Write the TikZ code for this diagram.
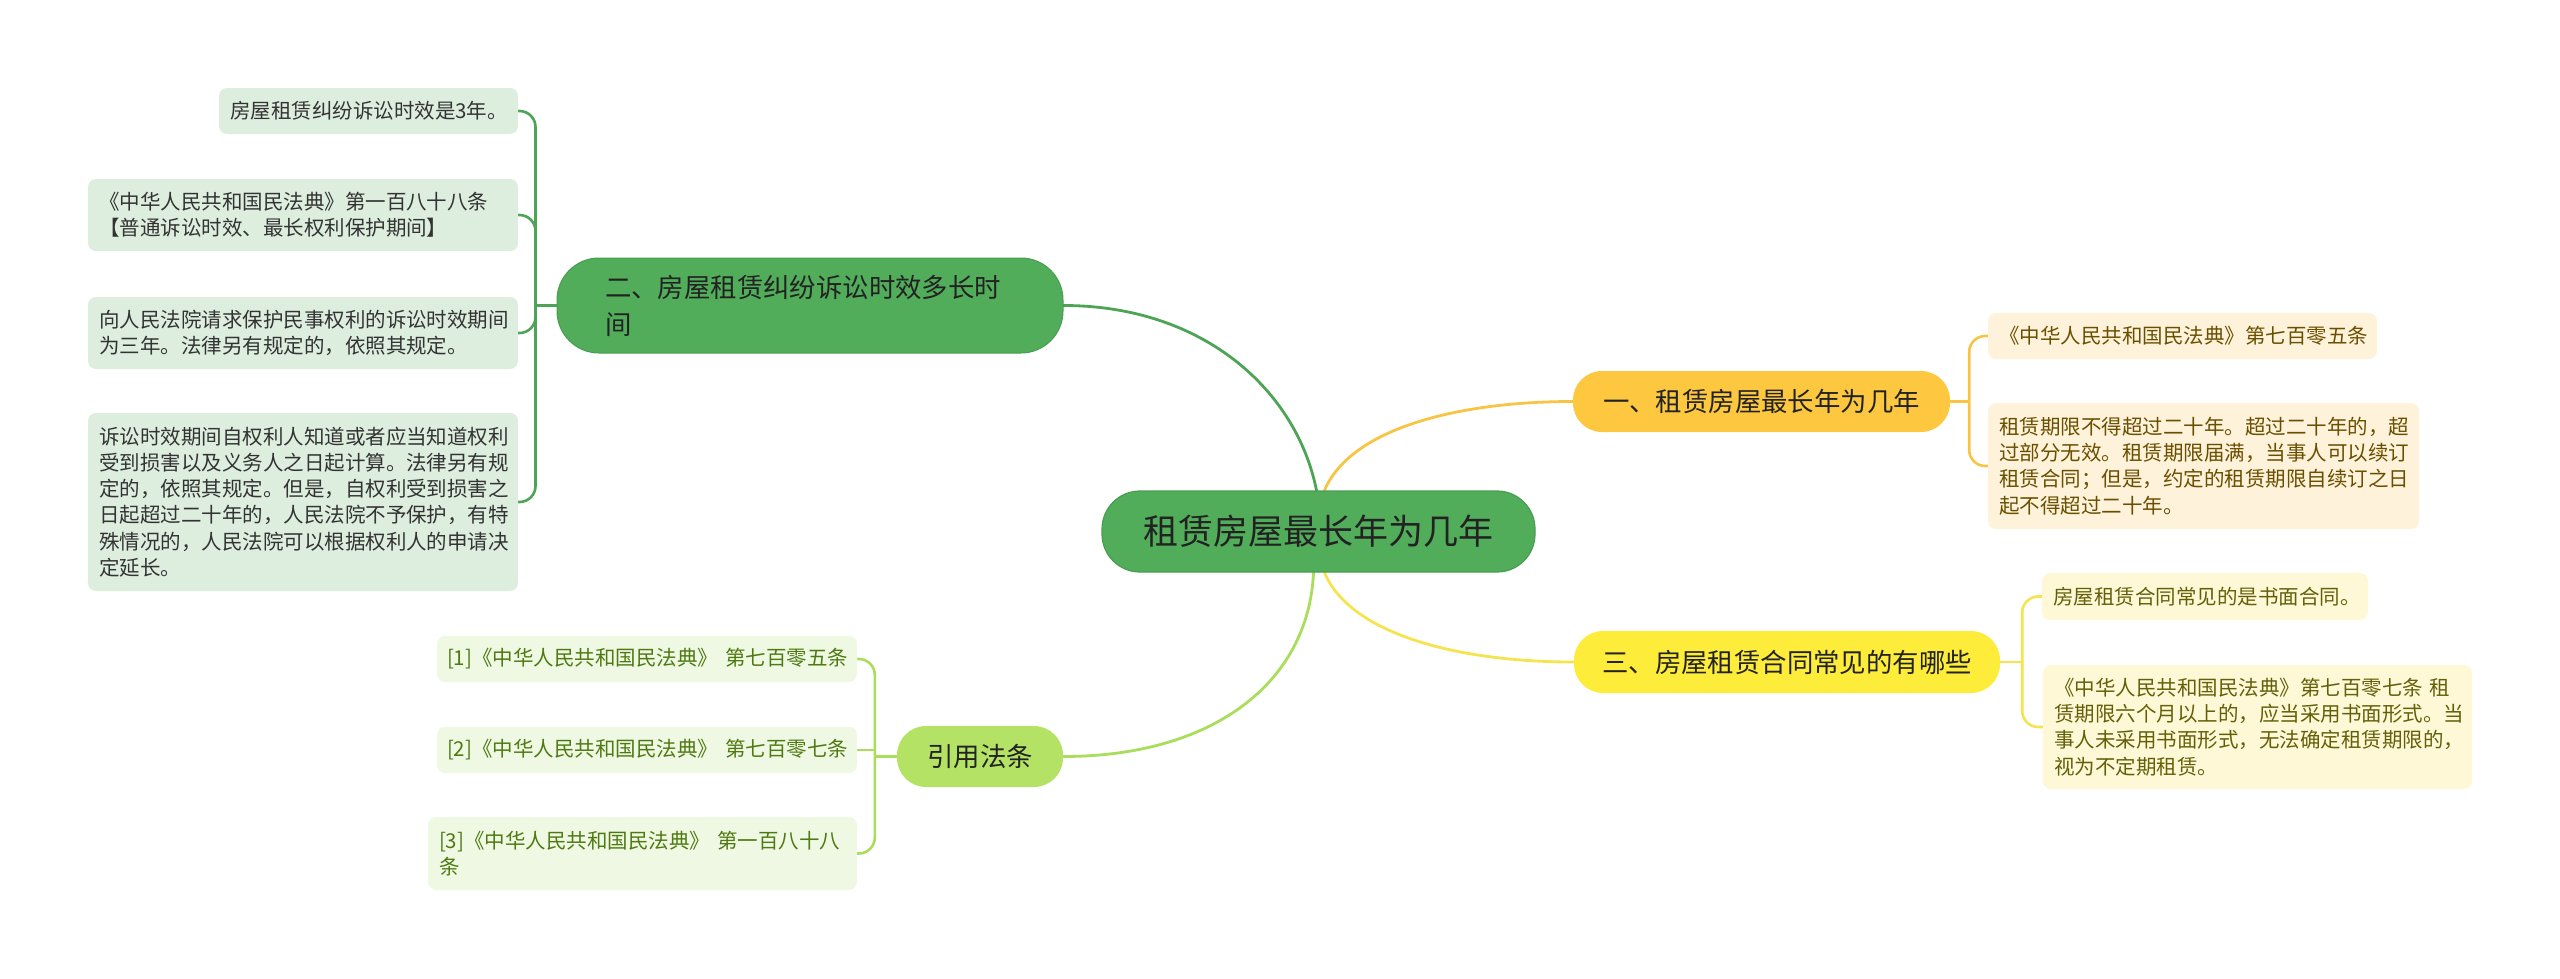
\documentclass[tikz,border=0pt]{standalone}
\usepackage{fontspec}
\setmainfont{Noto Sans CJK SC}
\usetikzlibrary{calc}
\pgfdeclarelayer{bg}
\pgfsetlayers{bg,main}
\definecolor{rootgreen}{HTML}{52AD5B}
\definecolor{rootborder}{HTML}{479E50}
\definecolor{amber}{HTML}{FDC840}
\definecolor{yellowb}{HTML}{FDEC3A}
\definecolor{limeb}{HTML}{B3E265}
\definecolor{leafgreen}{HTML}{DDEEDF}
\definecolor{leafamber}{HTML}{FEF3DA}
\definecolor{leafyellow}{HTML}{FFF8D6}
\definecolor{leaflime}{HTML}{EFF8E3}
\definecolor{txtdark}{HTML}{222222}
\definecolor{txtgreenleaf}{HTML}{333333}
\definecolor{txtamber}{HTML}{6A4F00}
\definecolor{txtyellow}{HTML}{64600A}
\definecolor{txtlime}{HTML}{4F7A12}
\definecolor{lgreen}{HTML}{4DA356}
\definecolor{lamber}{HTML}{F8C444}
\definecolor{lyellow}{HTML}{F5E350}
\definecolor{llime}{HTML}{A9DD5C}
\begin{document}
\begin{tikzpicture}[x=1pt,y=-1pt,
  rootbox/.style={fill=rootgreen, draw=rootborder, line width=1.2pt, rounded corners=38pt,
    inner sep=0pt, text=txtdark, font=\fontsize{35}{40}\selectfont},
  branchbox/.style={inner sep=0pt, text=txtdark, font=\fontsize{26.4}{37}\selectfont},
  leafbox/.style={rounded corners=8pt, inner xsep=11pt, inner ysep=0pt, align=left,
    font=\fontsize{20.5}{26.3}\selectfont},
  gleaf/.style={leafbox, fill=leafgreen, text=txtgreenleaf},
  aleaf/.style={leafbox, fill=leafamber, text=txtamber},
  yleaf/.style={leafbox, fill=leafyellow, text=txtyellow},
  lleaf/.style={leafbox, fill=leaflime, text=txtlime},
  conn/.style={line width=2.8pt, line cap=round},
  leafconn/.style={line width=2.6pt, rounded corners=16pt}
]
\useasboundingbox (0,0) rectangle (2560,978);

% root
\node[rootbox, minimum width=433pt, minimum height=81pt] (c) at (1318.5,531.5) {租赁房屋最长年为几年};

% branches
\node[branchbox, fill=amber, rounded corners=29pt, minimum width=377pt, minimum height=61pt] (b1) at (1761.5,401.5) {一、租赁房屋最长年为几年};
\node[branchbox, fill=yellowb, rounded corners=29pt, minimum width=426pt, minimum height=62pt] (b3) at (1787,662) {三、房屋租赁合同常见的有哪些};
\node[branchbox, fill=rootgreen, draw=rootborder, line width=1pt, rounded corners=42pt, inner xsep=48pt, text width=410pt, align=left, minimum height=95pt] (b2) at (810,305.5) {二、房屋租赁纠纷诉讼时效多长时\\间};
\node[branchbox, fill=limeb, rounded corners=29pt, minimum width=166pt, minimum height=61pt] (b4) at (980,756.5) {引用法条};

% leaves of branch 2
\node[gleaf, text width=277pt, minimum height=46pt] (l2a) at (368.5,111) {房屋租赁纠纷诉讼时效是3年。};
\node[gleaf, text width=408pt, minimum height=72pt] (l2b) at (303,215) {《中华人民共和国民法典》第一百八十八条\\【普通诉讼时效、最长权利保护期间】};
\node[gleaf, text width=408pt, minimum height=72pt] (l2c) at (303,333) {向人民法院请求保护民事权利的诉讼时效期间\\为三年。法律另有规定的，依照其规定。};
\node[gleaf, text width=408pt, minimum height=178pt] (l2d) at (303,502) {诉讼时效期间自权利人知道或者应当知道权利\\受到损害以及义务人之日起计算。法律另有规\\定的，依照其规定。但是，自权利受到损害之\\日起超过二十年的，人民法院不予保护，有特\\殊情况的，人民法院可以根据权利人的申请决\\定延长。};

% leaves of branch 1
\node[aleaf, text width=367pt, minimum height=46pt] (l1a) at (2182.5,336) {《中华人民共和国民法典》第七百零五条};
\node[aleaf, text width=409pt, minimum height=126pt] (l1b) at (2203.5,466) {租赁期限不得超过二十年。超过二十年的，超\\过部分无效。租赁期限届满，当事人可以续订\\租赁合同；但是，约定的租赁期限自续订之日\\起不得超过二十年。};

% leaves of branch 3
\node[yleaf, text width=304pt, minimum height=47pt] (l3a) at (2205,596.5) {房屋租赁合同常见的是书面合同。};
\node[yleaf, text width=407pt, minimum height=124pt] (l3b) at (2257.5,727) {《中华人民共和国民法典》第七百零七条~租\\赁期限六个月以上的，应当采用书面形式。当\\事人未采用书面形式，无法确定租赁期限的，\\视为不定期租赁。};

% leaves of branch 4
\node[lleaf, inner xsep=10pt, text width=400pt, minimum height=46pt] (r1) at (647,659) {[1]《中华人民共和国民法典》~第七百零五条};
\node[lleaf, inner xsep=10pt, text width=400pt, minimum height=46pt] (r2) at (647,750) {[2]《中华人民共和国民法典》~第七百零七条};
\node[lleaf, text width=407pt, minimum height=73pt] (r3) at (642.5,853.5) {[3]《中华人民共和国民法典》~第一百八十八\\条};

% junctions
\coordinate (j1) at ($(b1.east)+(19,0)$);
\coordinate (j3) at ($(b3.east)+(22,0)$);
\coordinate (j2) at ($(b2.west)+(-21,0)$);
\coordinate (j4) at ($(b4.west)+(-22,0)$);

\begin{pgfonlayer}{bg}
% root to branches
\draw[conn, lgreen] ([xshift=-2pt]c.north) .. controls +(-20,-100) and +(140,0) .. (b2.east);
\draw[conn, lamber] ([xshift=6pt]c.north) .. controls +(25,-60) and +(-120,0) .. (b1.west);
\draw[conn, lyellow] ([xshift=6pt]c.south) .. controls +(25,60) and +(-120,0) .. (b3.west);
\draw[conn, llime] ([xshift=-5pt]c.south) .. controls +(-5,110) and +(150,0) .. (b4.east);

% branch 2 to leaves
\draw[leafconn, lgreen] (b2.west) -- (j2);
\draw[leafconn, lgreen] (j2) |- (l2a.east);
\draw[leafconn, lgreen] (j2) |- (l2b.east);
\draw[leafconn, lgreen] (j2) |- (l2c.east);
\draw[leafconn, lgreen] (j2) |- (l2d.east);

% branch 1 to leaves
\draw[leafconn, lamber] (b1.east) -- (j1);
\draw[leafconn, lamber] (j1) |- (l1a.west);
\draw[leafconn, lamber] (j1) |- (l1b.west);

% branch 3 to leaves
\draw[leafconn, lyellow] (b3.east) -- (j3);
\draw[leafconn, lyellow] (j3) |- (l3a.west);
\draw[leafconn, lyellow] (j3) |- (l3b.west);

% branch 4 to leaves
\draw[leafconn, llime] (b4.west) -- (j4);
\draw[leafconn, llime] (j4) |- (r1.east);
\draw[leafconn, llime] (r2.east) -- (r2.east -| j4);
\draw[leafconn, llime] (j4) |- (r3.east);
\end{pgfonlayer}
\end{tikzpicture}
\end{document}
